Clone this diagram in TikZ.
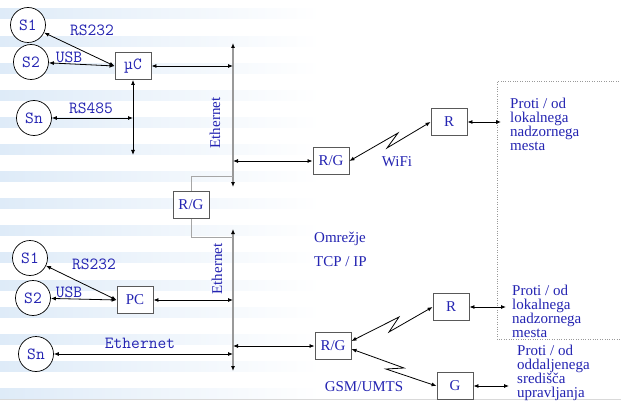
\documentclass[tikz,border=0pt]{standalone}
\usepackage{fontspec}
\setmainfont{Liberation Serif}
\usepackage{tikz,xcolor}
\usetikzlibrary{arrows.meta,calc}

\definecolor{txtblue}{RGB}{36,36,178}
\definecolor{stripeblue}{RGB}{222,235,248}
\newcommand{\txtsize}{\fontsize{15}{13.6}\selectfont}
\newcommand{\monosize}{\fontsize{17}{15}\selectfont}

\tikzset{
  lbl/.style={font=\rmfamily\txtsize, text=txtblue, inner sep=0pt},
  mlbl/.style={font=\ttfamily\monosize, text=txtblue, inner sep=0pt},
  dev/.style={lbl, draw=black!65, fill=white, line width=0.9pt, minimum width=36pt, minimum height=27pt},
  sens/.style={mlbl, draw=black, fill=white, circle, line width=0.7pt, minimum size=35pt},
  conn/.style={line width=0.8pt, {Latex[length=5pt,width=4pt]}-{Latex[length=5pt,width=4pt]}},
  bus/.style={draw=black!40, line width=1.6pt, {Latex[length=5pt,width=4pt,color=black]}-{Latex[length=5pt,width=4pt,color=black]}},
  link/.style={draw=black!35, line width=0.9pt}
}

\begin{document}
\begin{tikzpicture}[x=1pt,y=-1pt]
\useasboundingbox (0,0) rectangle (621,401);
\fill[white] (0,0) rectangle (621,401);

%stripes
\foreach \k in {0,...,14}{
  \shade[left color=stripeblue, right color=white] (0,{9+27.1*\k}) rectangle (320,{19+27.1*\k});
}
\draw[black!15] (0,399.5) -- (621,399.5);

%buses
\coordinate (b1top) at (233,43); \coordinate (b1bot) at (233,187);
\coordinate (b2top) at (233,229); \coordinate (b2bot) at (233,371);
\coordinate (b1join) at (233,176); \coordinate (b2join) at (233,237);
\draw[bus] (b1top) -- (b1bot);
\draw[bus] (b2top) -- (b2bot);
\node[lbl, rotate=90] (eth1) at (215,123) {Ethernet};
\node[lbl, rotate=90] (eth2) at (217,269) {Ethernet};

%upper sensors
\node[sens] (s1a) at (28,25) {S1};
\node[sens] (s2a) at (31,62) {S2};
\node[sens] (sna) at (34,118) {Sn};
\node[dev, mlbl, draw=black!65] (uc) at (133,66) {µC};
\coordinate (ucdown) at (133,155);

\node[mlbl] (rs232a) at (92,30) {RS232};
\node[mlbl] (usba) at (69,57) {USB};
\node[mlbl] (rs485) at (91,108) {RS485};

\draw[conn] (s1a) -- (uc.west);
\draw[conn] (s2a) -- (uc.west);
\draw[conn] (uc.east) -- (uc.east -| b1top);
\draw[conn] (uc.south) -- (ucdown);
\draw[conn] (sna) -- (sna -| ucdown);

%middle router
\node[dev] (rgm) at (191,205) {R/G};
\draw[link] (rgm.north) |- (b1join);
\draw[link] (rgm.south) |- (b2join);

%lower sensors
\node[sens] (s1b) at (30,258) {S1};
\node[sens] (s2b) at (33,298) {S2};
\node[sens] (snb) at (36,354) {Sn};
\node[dev] (pc) at (135,300) {PC};

\node[mlbl] (rs232b) at (94,264) {RS232};
\node[mlbl] (usbb) at (69,292) {USB};
\node[mlbl] (ethb) at (140,343) {Ethernet};

\draw[conn] (s1b) -- (pc.west);
\draw[conn] (s2b) -- (pc.west);
\draw[conn] (pc.east) -- (pc.east -| b2top);
\draw[conn] (snb) -- (snb -| b2top);

%wifi
\node[dev] (rgt) at (331,161) {R/G};
\node[dev] (rt) at (449,122) {R};
\node[lbl] (wifi) at (397,162) {WiFi};
\draw[conn] (rgt.west) -- (rgt.west -| b1top);
\draw[conn] (rgt.east) -- (398,133) -- (387,148) -- (rt.west);

%local station
\draw[dotted, black!40] (621,81) -- (497,81) -- (497,339) -- (621,339);
\node[lbl, align=left, anchor=north west] (loc1) at (510,98) {Proti / od\\lokalnega\\nadzornega\\mesta};
\coordinate (loc1in) at (501,122);
\draw[conn] (rt.east) -- (loc1in);

\node[lbl, anchor=west] (omr) at (314,239) {Omrežje};
\node[lbl, anchor=west] (tcp) at (314,262) {TCP / IP};

%gsm
\node[dev] (rgb) at (333,346) {R/G};
\node[dev] (rb) at (451,307) {R};
\node[dev] (gb) at (455,386) {G};
\node[lbl] (gsm) at (364,387) {GSM/UMTS};
\draw[conn] (rgb.west) -- (rgb.west -| b2top);
\draw[conn] ([yshift=5pt]rgb.east) -- (399,317) -- (389,332) -- (rb.west);
\draw[conn] ([yshift=-3pt]rgb.east) -- (404,368) -- (386,369) -- (gb.west);

\node[lbl, align=left, anchor=north west] (loc2) at (512,285) {Proti / od\\lokalnega\\nadzornega\\mesta};
\node[lbl, align=left, anchor=north west] (rem) at (517,345) {Proti / od\\oddaljenega\\središča\\upravljanja};
\coordinate (loc2in) at (506,307);
\coordinate (remin) at (509,386);
\draw[conn] (rb.east) -- (loc2in);
\draw[conn] (gb.east) -- (remin);

\end{tikzpicture}
\end{document}
